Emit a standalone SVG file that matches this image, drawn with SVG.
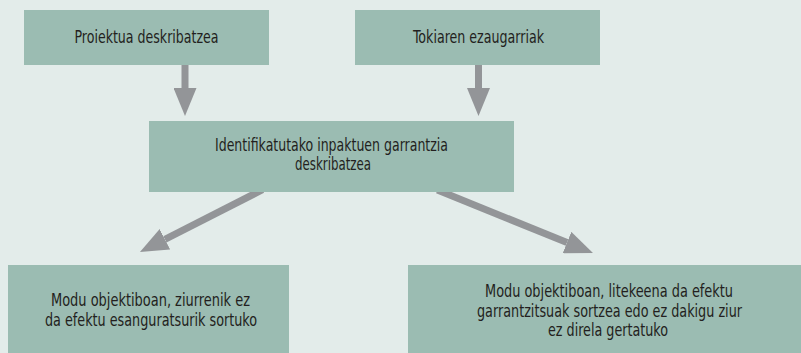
<svg xmlns="http://www.w3.org/2000/svg" width="801" height="353" viewBox="0 0 801 353">
<defs>
<style>
.bg{fill:#e3ecea}
.box{fill:#9bbcb2}
.t{font-family:"DejaVu Sans Condensed","Liberation Sans Narrow","Liberation Sans",sans-serif;font-size:17px;fill:#231f20;text-anchor:middle}
.c{stroke:#939598;stroke-width:7;fill:none;marker-end:url(#ah)}
</style>
<marker id="ah" markerUnits="userSpaceOnUse" markerWidth="28" markerHeight="23" viewBox="0 0 28 23" refX="0" refY="11.5" orient="auto">
<path d="M0,0 L28,11.5 L0,23 Z" fill="#939598"/>
</marker>
</defs>
<rect class="bg" x="0" y="0" width="801" height="353"/>
<g id="connectors">
<line class="c" x1="185" y1="60" x2="185" y2="88"/>
<line class="c" x1="478.5" y1="60" x2="478.5" y2="88"/>
<line class="c" x1="262.5" y1="189.7" x2="164.9" y2="239.3"/>
<line class="c" x1="437.4" y1="190.1" x2="567" y2="242.5"/>
</g>
<g id="n1">
<rect class="box" x="24" y="10" width="245" height="55"/>
<text class="t" x="146.5" y="43" textLength="144" lengthAdjust="spacingAndGlyphs">Proiektua deskribatzea</text>
</g>
<g id="n2">
<rect class="box" x="355" y="10" width="245" height="55"/>
<text class="t" x="478.5" y="43" textLength="131" lengthAdjust="spacingAndGlyphs">Tokiaren ezaugarriak</text>
</g>
<g id="n3">
<rect class="box" x="149" y="121" width="365" height="71"/>
<text class="t" x="331.5" y="151" textLength="233" lengthAdjust="spacingAndGlyphs">Identifikatutako inpaktuen garrantzia</text>
<text class="t" x="333" y="170" textLength="76" lengthAdjust="spacingAndGlyphs">deskribatzea</text>
</g>
<g id="n4">
<rect class="box" x="8" y="265" width="281" height="88"/>
<text class="t" x="150.5" y="306" textLength="199" lengthAdjust="spacingAndGlyphs">Modu objektiboan, ziurrenik ez</text>
<text class="t" x="151" y="326" textLength="212" lengthAdjust="spacingAndGlyphs">da efektu esanguratsurik sortuko</text>
</g>
<g id="n5">
<rect class="box" x="408" y="265" width="393" height="88"/>
<text class="t" x="609" y="297" textLength="248" lengthAdjust="spacingAndGlyphs">Modu objektiboan, litekeena da efektu</text>
<text class="t" x="609.5" y="317" textLength="265" lengthAdjust="spacingAndGlyphs">garrantzitsuak sortzea edo ez dakigu ziur</text>
<text class="t" x="608" y="336" textLength="120" lengthAdjust="spacingAndGlyphs">ez direla gertatuko</text>
</g>
</svg>
